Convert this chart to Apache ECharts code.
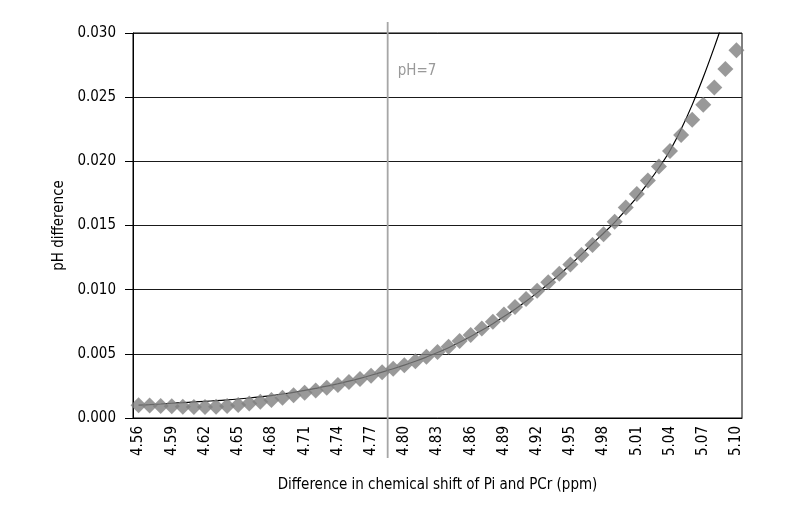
<!DOCTYPE html>
<html>
<head>
<meta charset="utf-8">
<script src="https://cdn.jsdelivr.net/npm/echarts@6/dist/echarts.min.js"></script>
<style>html,body{margin:0;padding:0;background:#fff}#c{width:800px;height:520px}</style>
</head>
<body>
<div id="c"></div>
<script>
const categories = ['4.56','4.57','4.58','4.59','4.60','4.61','4.62','4.63','4.64','4.65','4.66','4.67','4.68','4.69','4.70','4.71','4.72','4.73','4.74','4.75','4.76','4.77','4.78','4.79','4.80','4.81','4.82','4.83','4.84','4.85','4.86','4.87','4.88','4.89','4.90','4.91','4.92','4.93','4.94','4.95','4.96','4.97','4.98','4.99','5.00','5.01','5.02','5.03','5.04','5.05','5.06','5.07','5.08','5.09','5.10'];

const pHDifference = [0.00100,0.00097,0.00094,0.00091,0.00088,0.00086,0.00085,0.00087,0.00093,0.00102,
  0.00113,0.00126,0.00140,0.00158,0.00178,0.00196,0.00215,0.00235,0.00257,0.00280,
  0.00304,0.00330,0.00357,0.00384,0.00412,0.00442,0.00477,0.00515,0.00556,0.00600,
  0.00647,0.00697,0.00750,0.00806,0.00865,0.00927,0.00991,0.01057,0.01125,0.01196,
  0.01270,0.01348,0.01431,0.01530,0.01640,0.01745,0.01850,0.01960,0.02080,0.02205,
  0.02325,0.02440,0.02575,0.02720,0.02865];

const trendValues = [0.00100,0.00104,0.00109,0.00115,0.00120,0.00125,0.00130,0.00135,0.00141,0.00148,
  0.00156,0.00165,0.00175,0.00187,0.00200,0.00215,0.00231,0.00248,0.00267,0.00287,
  0.00309,0.00333,0.00358,0.00384,0.00412,0.00442,0.00475,0.00510,0.00548,0.00590,
  0.00635,0.00683,0.00735,0.00790,0.00848,0.00910,0.00975,0.01044,0.01117,0.01194,
  0.01275,0.01360,0.01440,0.01525,0.01620,0.01720,0.01830,0.01950,0.02085,0.02250,
  0.02440,0.02655,0.02890,0.03140,0.03400];

const pH7Shift = 4.785;
const pH7Label = 'pH=7';
const xTitle = 'Difference in chemical shift of Pi and PCr (ppm)';
const yTitle = 'pH difference';

const FONT = "'Liberation Sans Narrow', 'DejaVu Sans Condensed', 'Roboto', sans-serif";

const chart = echarts.init(document.getElementById('c'), null, {renderer: 'canvas'});
chart.setOption({
  animation: false,
  backgroundColor: '#fff',
  grid: {left: 133, right: 58, top: 33, bottom: 102, show: true, borderColor: '#000', borderWidth: 1, backgroundColor: 'transparent'},
  xAxis: [{
    type: 'category',
    data: categories,
    boundaryGap: true,
    name: xTitle,
    nameLocation: 'middle',
    nameGap: 60,
    nameTextStyle: {fontFamily: FONT, fontSize: 15, color: '#000'},
    axisLine: {show: true, lineStyle: {color: '#000', width: 1}},
    axisTick: {show: false},
    axisLabel: {interval: 2, rotate: 90, margin: 8, fontFamily: FONT, fontSize: 15, color: '#000'},
    splitLine: {show: false}
  }, {
    type: 'value',
    min: 4.555,
    max: 5.105,
    show: false
  }],
  yAxis: {
    type: 'value',
    min: 0,
    max: 0.030,
    interval: 0.005,
    name: yTitle,
    nameLocation: 'middle',
    nameGap: 53,
    nameTextStyle: {fontFamily: FONT, fontSize: 15, color: '#000'},
    axisLine: {show: true, lineStyle: {color: '#000', width: 1}},
    axisTick: {show: true, length: 8, lineStyle: {color: '#000'}},
    axisLabel: {margin: 17, fontFamily: FONT, fontSize: 15, color: '#000', formatter: v => v.toFixed(3)},
    splitLine: {show: true, lineStyle: {color: '#1a1a1a', width: 1.2}}
  },
  series: [{
    type: 'custom',
    xAxisIndex: 1,
    yAxisIndex: 0,
    clip: false,
    z: 1,
    data: [[pH7Shift, 0]],
    renderItem: function (params, api) {
      const top = api.coord([api.value(0), 0.030]);
      const bot = api.coord([api.value(0), 0]);
      const lab = api.coord([api.value(0), 0.027]);
      return {
        type: 'group',
        children: [{
          type: 'line',
          shape: {x1: top[0], y1: top[1] - 11, x2: bot[0], y2: bot[1] + 40},
          style: {stroke: '#a6a6a6', lineWidth: 1.8}
        }, {
          type: 'text',
          style: {text: pH7Label, x: lab[0] + 10, y: lab[1], fill: '#999', font: '15px ' + FONT, verticalAlign: 'middle', align: 'left'}
        }]
      };
    }
  }, {
    type: 'line',
    data: trendValues,
    smooth: 0.4,
    symbol: 'none',
    clip: true,
    z: 2,
    lineStyle: {color: '#000', width: 1.2}
  }, {
    type: 'scatter',
    data: pHDifference,
    symbol: 'diamond',
    symbolSize: 16,
    z: 3,
    itemStyle: {color: '#808080'}
  }]
});
</script>
</body>
</html>
